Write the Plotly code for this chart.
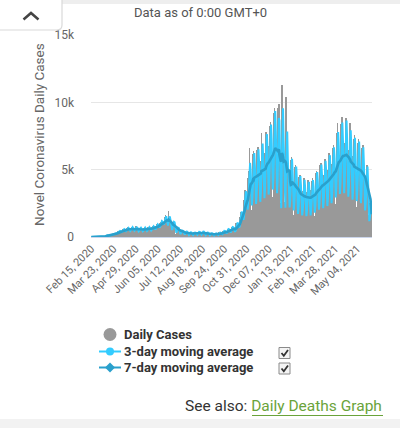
import plotly.graph_objects as go
import pandas as pd

start_date = "2020-02-15"

# daily new cases, one row per week (Sat..Fri)
daily_cases = [
    0, 0, 0, 0, 0, 0, 0,
    0, 0, 1, 2, 3, 1, 4,
    1, 1, 1, 0, 8, 24, 60,
    30, 60, 40, 110, 150, 90, 140,
    110, 90, 80, 120, 140, 150, 160,
    180, 150, 200, 240, 260, 280, 250,
    330, 280, 330, 420, 450, 480, 430,
    400, 320, 390, 520, 570, 620, 560,
    470, 380, 460, 620, 670, 720, 650,
    500, 390, 480, 660, 730, 780, 690,
    510, 400, 490, 670, 740, 790, 700,
    460, 360, 450, 620, 680, 720, 640,
    470, 350, 440, 610, 690, 740, 650,
    490, 380, 480, 650, 720, 780, 700,
    530, 400, 520, 710, 790, 850, 750,
    610, 460, 600, 840, 910, 990, 910,
    760, 570, 760, 1040, 1140, 1240, 1140,
    1000, 750, 1000, 1370, 1500, 1620, 1500,
    920, 690, 920, 1900, 1300, 1400, 1200,
    430, 340, 770, 1150, 1100, 1100, 1060,
    260, 210, 470, 700, 680, 680, 650,
    180, 140, 320, 490, 470, 470, 450,
    150, 120, 270, 400, 390, 390, 380,
    130, 100, 230, 350, 340, 340, 330,
    125, 100, 225, 340, 325, 325, 310,
    145, 115, 260, 390, 380, 380, 360,
    150, 120, 270, 400, 390, 390, 380,
    125, 100, 225, 340, 325, 325, 310,
    105, 85, 190, 285, 275, 275, 260,
    100, 80, 180, 270, 260, 260, 250,
    125, 100, 225, 340, 325, 325, 310,
    175, 140, 315, 470, 455, 455, 440,
    230, 170, 410, 610, 590, 580, 560,
    280, 220, 500, 760, 730, 730, 700,
    540, 290, 320, 830, 1010, 1040, 1010,
    980, 520, 590, 1500, 1820, 1880, 1810,
    1800, 960, 1080, 2760, 3360, 3480, 3360,
    2850, 1520, 1710, 4370, 4900, 6600, 5000,
    3300, 1760, 1980, 5060, 6160, 6380, 6160,
    3450, 1840, 2070, 5290, 6440, 6670, 6440,
    3680, 1960, 2200, 5640, 7700, 6700, 6420,
    4050, 2160, 2430, 6210, 7560, 7830, 7560,
    4430, 2360, 2660, 6790, 8260, 8560, 8240,
    4950, 2640, 2970, 7590, 9240, 9570, 9240,
    4580, 2440, 2750, 7020, 9600, 9900, 6410,
    2400, 1500, 2500, 11300, 9000, 8400, 4100,
    2600, 1700, 2200, 10400, 7300, 5800, 4300,
    3080, 1640, 1850, 4720, 5740, 5940, 5730,
    2780, 1480, 1670, 4250, 5180, 5360, 5180,
    2400, 1280, 1440, 3680, 4480, 4640, 4480,
    2250, 1200, 1350, 3450, 4200, 4350, 4200,
    2180, 1160, 1300, 3340, 4060, 4200, 4060,
    2250, 1200, 1350, 3500, 4150, 4400, 4150,
    2550, 1360, 1530, 3910, 4760, 4930, 4760,
    2850, 1520, 1710, 4370, 5320, 5510, 5320,
    3000, 1600, 1800, 4600, 5600, 5800, 5600,
    3230, 1720, 1940, 4940, 6020, 6230, 6020,
    3530, 1880, 2120, 5400, 6580, 6820, 6570,
    4130, 2200, 2480, 6320, 7700, 8500, 7170,
    4500, 2400, 2700, 6900, 8400, 8900, 8200,
    4580, 2440, 2750, 7010, 8540, 8840, 8540,
    4200, 2240, 2520, 6440, 7840, 8500, 7460,
    3900, 2080, 2340, 5980, 7280, 7540, 7280,
    3750, 2000, 2250, 5750, 7000, 7250, 7000,
    3530, 1880, 2120, 5400, 6580, 6820, 6570,
    2780, 1480, 1670, 4250, 5180, 5360, 5180,
    1650, 880, 990, 2530, 3080, 2000, 700,
]

tick_labels = ["Feb 15, 2020", "Mar 23, 2020", "Apr 29, 2020", "Jun 05, 2020",
               "Jul 12, 2020", "Aug 18, 2020", "Sep 24, 2020", "Oct 31, 2020",
               "Dec 07, 2020", "Jan 13, 2021", "Feb 19, 2021", "Mar 28, 2021",
               "May 04, 2021"]
y_tick_vals = [0, 5000, 10000, 15000]
y_tick_text = ["0", "5k", "10k", "15k"]
legend_labels = ["Daily Cases", "3-day moving average", "7-day moving average"]

N = len(daily_cases)
dates = pd.date_range(start_date, periods=N, freq="D").strftime("%b %d, %Y").tolist()
s = pd.Series(daily_cases, dtype=float)
ma3 = s.rolling(3, min_periods=1).mean().tolist()
ma7 = s.rolling(7, min_periods=1).mean().tolist()
tick_vals = [dates[i] for i in range(0, N, 37)]

GRAY = "#999999"
C3 = "#33ccff"
C7 = "#2aa0cc"
FONT = "Roboto"

# pixel geometry of plot area
L, R, T, B = 91, 372, 35, 237
W, H = 400, 428
def px(x): return (x - L) / (R - L)
def py(y): return (B - y) / (B - T)

fig = go.Figure()
fig.add_trace(go.Bar(x=dates, y=daily_cases, marker=dict(color=GRAY, line=dict(width=0)),
                     showlegend=False, name=legend_labels[0]))
fig.add_trace(go.Scatter(x=dates, y=ma3, mode="lines", line=dict(color=C3, width=2.0),
                         showlegend=False, name=legend_labels[1]))
fig.add_trace(go.Scatter(x=dates, y=ma7, mode="lines", line=dict(color=C7, width=2.6),
                         showlegend=False, name=legend_labels[2]))

shapes = []
# top page strip and bottom band
shapes.append(dict(type="rect", xref="paper", yref="paper", x0=px(0), x1=px(400), y0=py(0), y1=py(4),
                   fillcolor="#eeeeee", line=dict(width=0), layer="below"))
shapes.append(dict(type="rect", xref="paper", yref="paper", x0=px(0), x1=px(400), y0=py(419), y1=py(428),
                   fillcolor="#f2f2f2", line=dict(width=0), layer="below"))
# collapse button
bpath = "M {a},{b} L {c},{b} L {c},{d} Q {c},{e} {f},{e} L {a},{e} Z".format(
    a=px(-2), b=py(-2), c=px(62), d=py(25), e=py(30), f=px(57))
shapes.append(dict(type="path", xref="paper", yref="paper", path=bpath,
                   fillcolor="white", line=dict(color="#d9d9d9", width=1.2), layer="above"))
cpath = "M {x0},{y0} L {x1},{y1} L {x2},{y0}".format(x0=px(23.5), y0=py(19.5), x1=px(31), y1=py(13), x2=px(38.5))
shapes.append(dict(type="path", xref="paper", yref="paper", path=cpath,
                   line=dict(color="#444444", width=2.5), layer="above"))

# legend (drawn by hand so that row spacing matches)
rows = [334.5, 351.5, 367.5]
shapes.append(dict(type="circle", xref="paper", yref="paper", x0=px(103.5), x1=px(116.5),
                   y0=py(rows[0] + 6.5), y1=py(rows[0] - 6.5), fillcolor=GRAY, line=dict(width=0)))
for r, col in ((rows[1], C3), (rows[2], C7)):
    shapes.append(dict(type="line", xref="paper", yref="paper", x0=px(99), x1=px(121),
                       y0=py(r), y1=py(r), line=dict(color=col, width=2)))
shapes.append(dict(type="circle", xref="paper", yref="paper", x0=px(106), x1=px(114),
                   y0=py(rows[1] + 4), y1=py(rows[1] - 4), fillcolor=C3, line=dict(width=0)))
dpath = "M {a},{m} L {c},{t} L {e},{m} L {c},{b} Z".format(
    a=px(105), c=px(110), e=px(115), m=py(rows[2]), t=py(rows[2] - 5), b=py(rows[2] + 5))
shapes.append(dict(type="path", xref="paper", yref="paper", path=dpath, fillcolor=C7, line=dict(width=0)))

# checkboxes
for cy in (353, 368.5):
    shapes.append(dict(type="rect", xref="paper", yref="paper", x0=px(279), x1=px(290),
                       y0=py(cy + 5.5), y1=py(cy - 5.5), fillcolor="#f4f4f4",
                       line=dict(color="#8a8a8a", width=1)))
    kpath = "M {a},{p} L {b},{q} L {c},{r}".format(
        a=px(281.5), p=py(cy), b=px(283.8), q=py(cy + 2.8), c=px(288), r=py(cy - 3))
    shapes.append(dict(type="path", xref="paper", yref="paper", path=kpath,
                       line=dict(color="#333333", width=1.8)))
# underline of link
shapes.append(dict(type="line", xref="paper", yref="paper", x0=px(252), x1=px(383), y0=py(415.5), y1=py(415.5),
                   line=dict(color="#6aa33a", width=1.2)))

annotations = [
    dict(x=px(200), y=py(13), xref="paper", yref="paper", xanchor="center", yanchor="middle",
         text="Data as of 0:00 GMT+0",
         showarrow=False, font=dict(family=FONT, size=13, color="#555555")),
    dict(x=px(39), y=py(135), xref="paper", yref="paper", xanchor="center", yanchor="middle",
         text="Novel Coronavirus Daily Cases",
         textangle=-90, showarrow=False, font=dict(family=FONT, size=13.5, color="#666666")),
    dict(x=px(384), y=py(406), xref="paper", yref="paper", xanchor="right", yanchor="middle",
         text="See also: <span style='color:#6aa33a'>Daily Deaths Graph</span>",
         showarrow=False, font=dict(family=FONT, size=15.5, color="#333333")),
]
for r, lab in zip(rows, legend_labels):
    annotations.append(dict(x=px(122), y=py(r), xref="paper", yref="paper", xanchor="left",
                            yanchor="middle", text="<b>" + lab + "</b>", showarrow=False,
                            font=dict(family=FONT, size=13, color="#333333")))

fig.update_layout(
    width=W, height=H,
    margin=dict(l=L, r=W - R, t=T, b=H - B, pad=0, autoexpand=False),
    paper_bgcolor="white", plot_bgcolor="white",
    bargap=0,
    font=dict(family=FONT, color="#666666"),
    shapes=shapes, annotations=annotations,
    showlegend=False,
    xaxis=dict(type="category", range=[-0.5, N - 0.5], tickmode="array",
               tickvals=tick_vals, ticktext=tick_labels, tickangle=-45,
               tickfont=dict(family=FONT, size=11, color="#666666"),
               showgrid=False, showline=True, linecolor="#ccd6eb", linewidth=1,
               ticks="", zeroline=False, fixedrange=True, automargin=False),
    yaxis=dict(range=[0, 15000], tickmode="array", tickvals=y_tick_vals, ticktext=y_tick_text,
               tickfont=dict(family=FONT, size=12, color="#666666"),
               showgrid=True, gridcolor="#e6e6e6", gridwidth=1, zeroline=False,
               ticklabelstandoff=16, fixedrange=True, automargin=False),
)

fig.write_html("out.html", config={"displayModeBar": False},
               post_script="document.body.style.margin='0';document.body.style.overflow='hidden';")
